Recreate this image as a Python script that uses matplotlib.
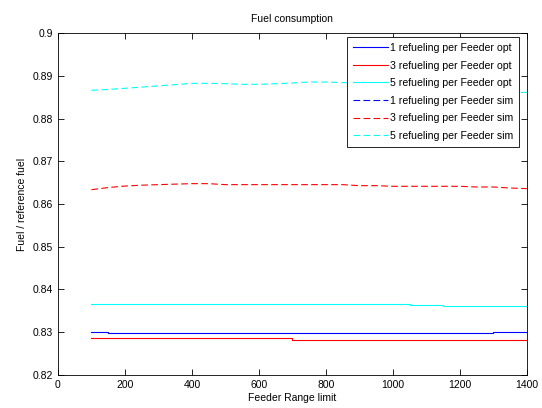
import numpy as np
import matplotlib
matplotlib.use('Agg')
import matplotlib.pyplot as plt
from matplotlib.ticker import MultipleLocator, FuncFormatter

plt.rcParams['font.family'] = ['Liberation Sans', 'DejaVu Sans']
plt.rcParams['font.size'] = 7.5

# optimised results: value holds from each breakpoint to the next
x_opt = [100, 150, 300, 500, 700, 1050, 1150, 1300, 1400]
opt_1 = [0.83009, 0.82977, 0.82977, 0.82977, 0.82977, 0.82977, 0.82977, 0.83001, 0.83001]
opt_3 = [0.82853, 0.82853, 0.82876, 0.82853, 0.82829, 0.82829, 0.82829, 0.82814, 0.82814]
opt_5 = [0.83665, 0.83665, 0.83665, 0.83665, 0.83665, 0.83642, 0.83618, 0.83618, 0.83618]

# simulated results
x_sim = [100, 150, 200, 250, 300, 350, 400, 450, 500, 550, 600, 650, 700, 750,
         800, 850, 900, 950, 1000, 1050, 1100, 1150, 1200, 1250, 1300, 1350, 1400]
sim_1 = []  # not visible in range
sim_3 = [0.86335, 0.86385, 0.8642, 0.8644, 0.86453, 0.86465, 0.86476, 0.86476, 0.86453,
         0.86453, 0.86453, 0.86453, 0.86453, 0.86453, 0.86453, 0.86453, 0.86429, 0.86429,
         0.86414, 0.86414, 0.86414, 0.86414, 0.86414, 0.86398, 0.86398, 0.86374, 0.86359]
sim_5 = [0.88661, 0.8868, 0.88707, 0.88735, 0.88765, 0.88792, 0.88823, 0.88823, 0.88815,
         0.888, 0.888, 0.88815, 0.88831, 0.88854, 0.88854, 0.8884, 0.8883, 0.8882,
         0.888, 0.8878, 0.8875, 0.8872, 0.8869, 0.8866, 0.8864, 0.8861, 0.8861]

labels = ['1 refueling per Feeder opt', '3 refueling per Feeder opt', '5 refueling per Feeder opt',
          '1 refueling per Feeder sim', '3 refueling per Feeder sim', '5 refueling per Feeder sim']

fig = plt.figure(figsize=(5.42, 4.08), dpi=100)
ax = fig.add_axes([0.107, 0.081, 0.865, 0.838])

lw = 0.8
blue, red, cyan = '#0000ff', '#ff0000', '#00ffff'
dash = (0, (6, 3))
ax.plot(x_opt, opt_1, color=blue, lw=lw, drawstyle='steps-post', label=labels[0])
ax.plot(x_opt, opt_3, color=red, lw=lw, drawstyle='steps-post', label=labels[1])
ax.plot(x_opt, opt_5, color=cyan, lw=lw, drawstyle='steps-post', label=labels[2])
ax.plot(x_sim[:len(sim_1)], sim_1, color=blue, lw=lw, ls=dash, label=labels[3])
ax.plot(x_sim, sim_3, color=red, lw=lw, ls=dash, label=labels[4])
ax.plot(x_sim, sim_5, color=cyan, lw=lw, ls=dash, label=labels[5])

ax.set_xlim(0, 1400)
ax.set_ylim(0.82, 0.9)
ax.xaxis.set_major_locator(MultipleLocator(200))
ax.yaxis.set_major_locator(MultipleLocator(0.01))
ax.yaxis.set_major_formatter(FuncFormatter(lambda v, p: '%g' % round(v, 3)))
ax.tick_params(direction='in', top=True, right=True, length=4, width=0.6)
for s in ax.spines.values():
    s.set_linewidth(0.6)

ax.set_title('Fuel consumption', fontsize=7.5, pad=8)
ax.set_xlabel('Feeder Range limit', labelpad=2)
ax.set_ylabel('Fuel / reference fuel', labelpad=4)

leg = ax.legend(loc='upper right', bbox_to_anchor=(0.983, 0.988), borderaxespad=0,
                fancybox=False, framealpha=1, edgecolor='black', fontsize=7.6,
                handlelength=3.3, labelspacing=0.72, borderpad=0.55, handletextpad=0.2)
leg.get_frame().set_linewidth(0.6)

fig.savefig('out.png', dpi=100)
